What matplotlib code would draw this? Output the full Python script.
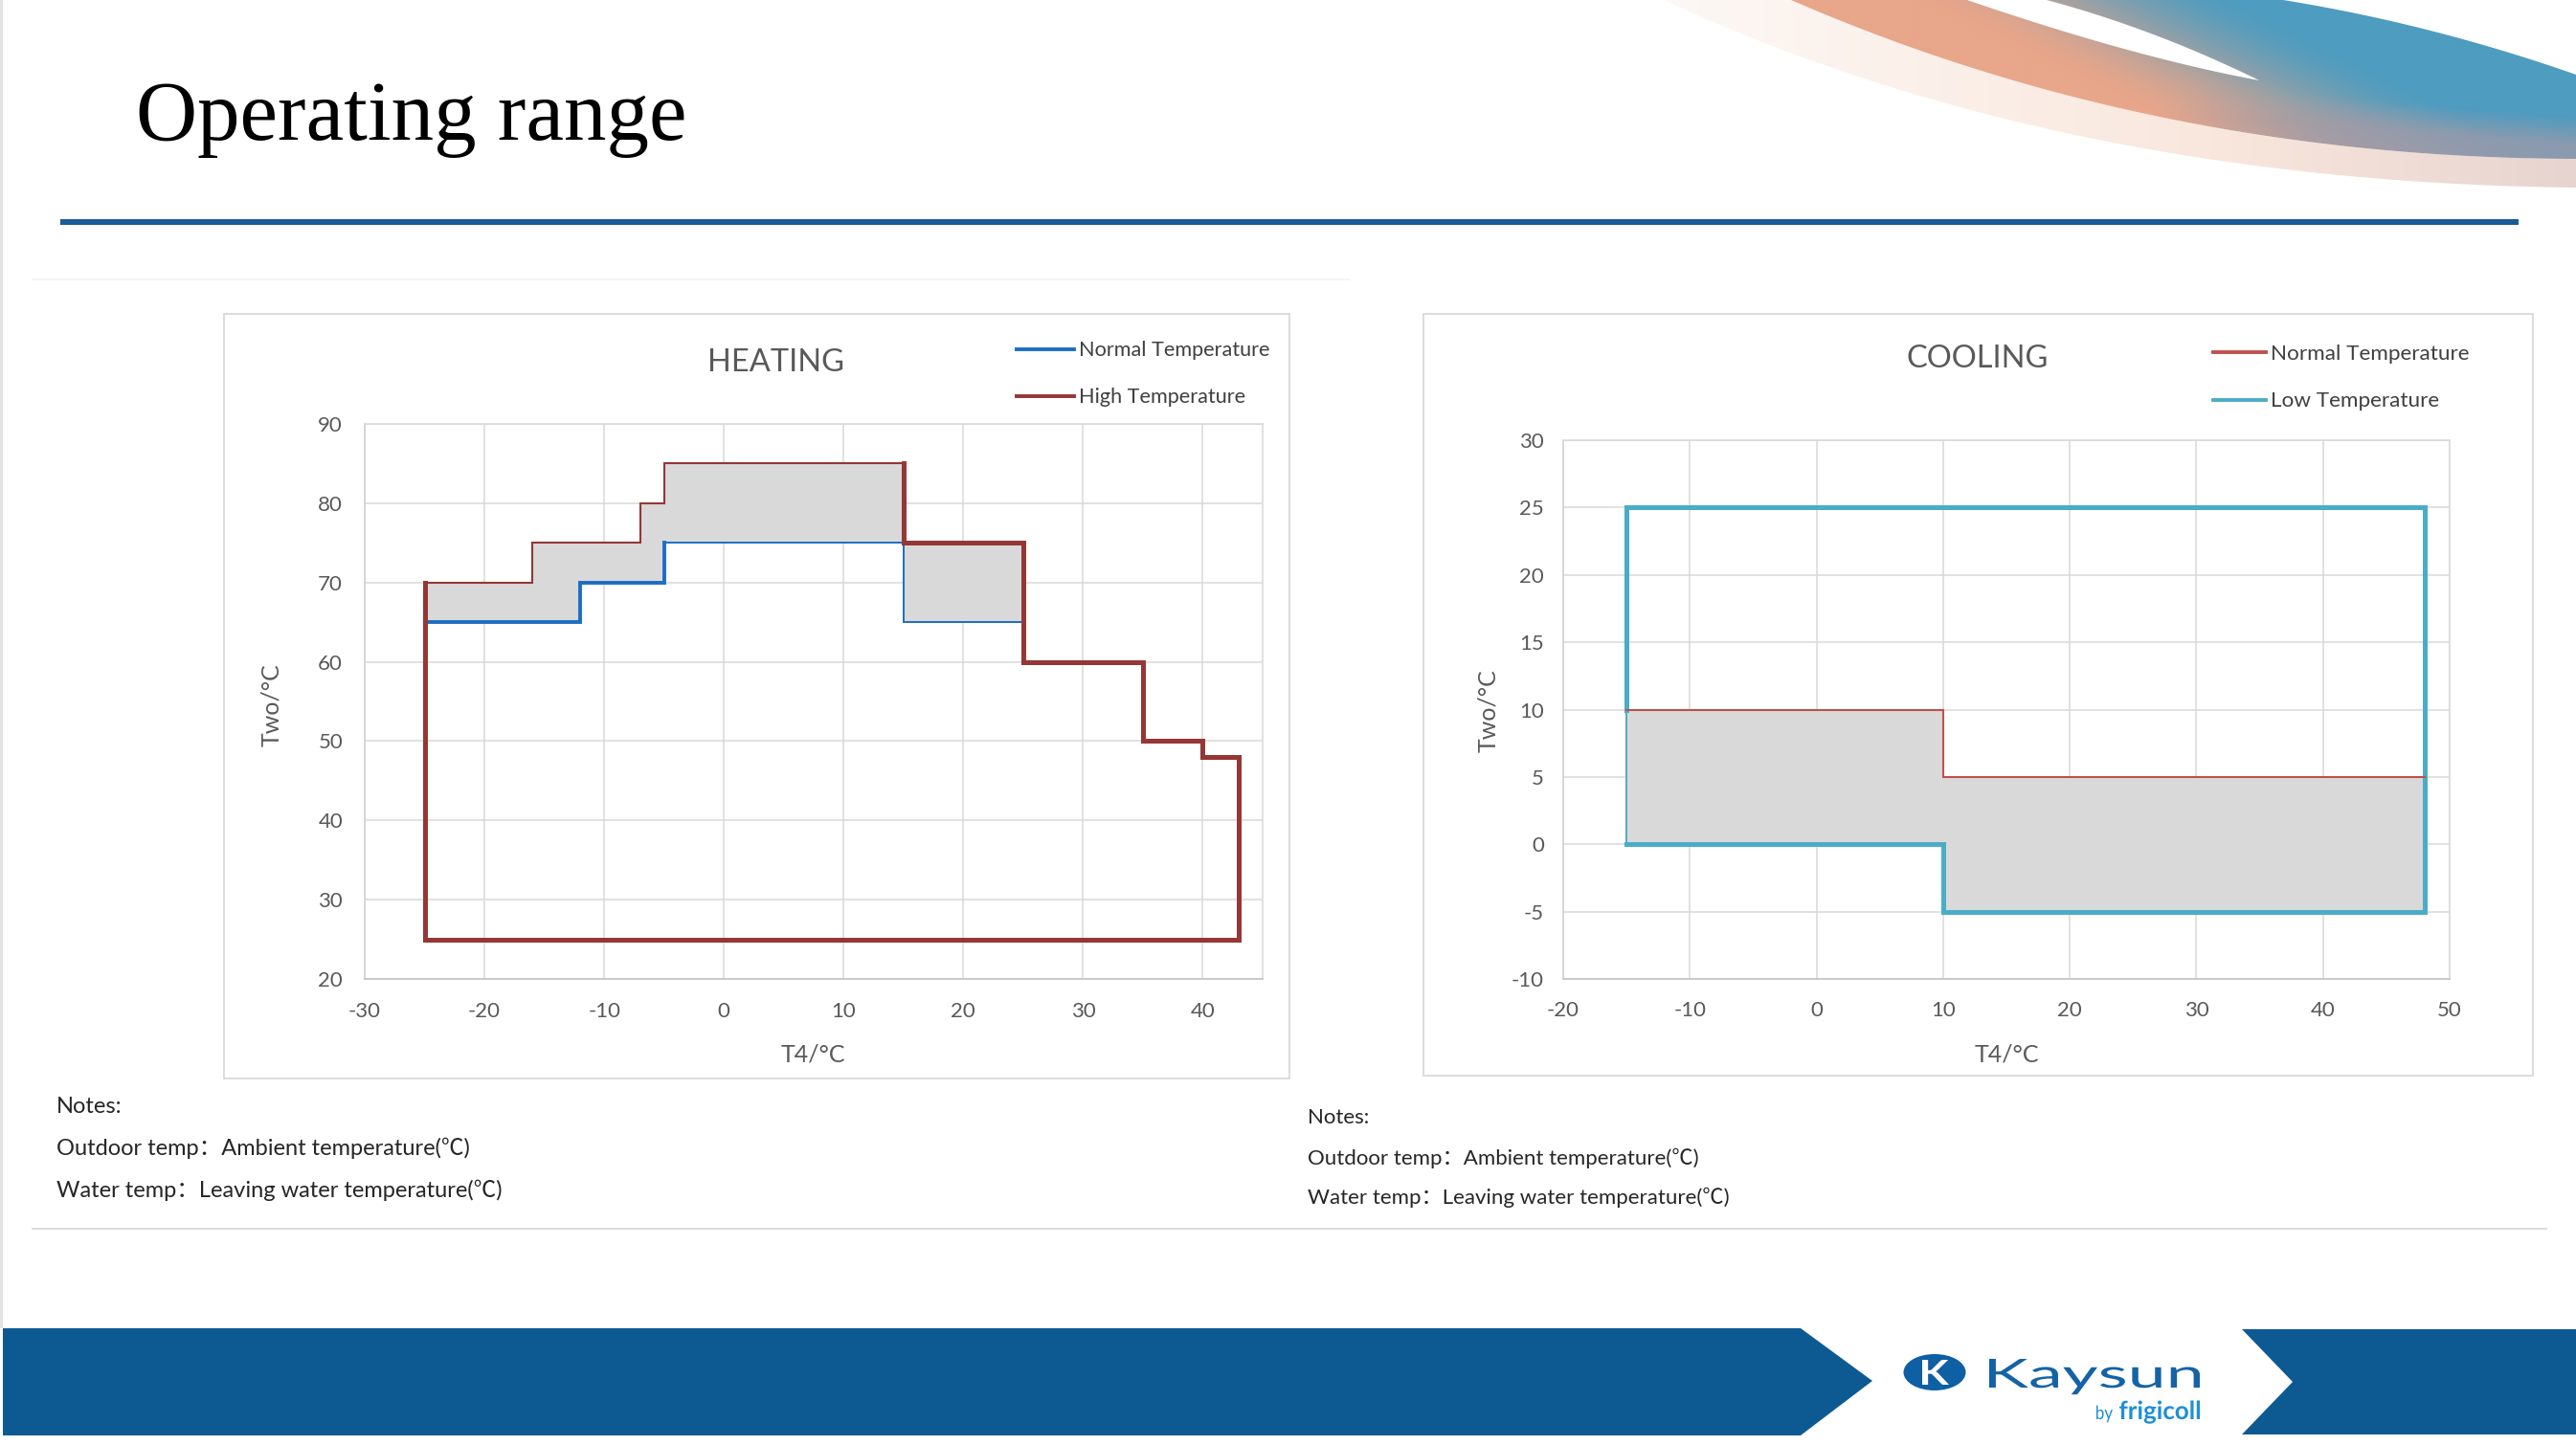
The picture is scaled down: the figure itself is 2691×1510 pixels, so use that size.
import numpy as np
import matplotlib
matplotlib.use('Agg')
import matplotlib.pyplot as plt
from matplotlib.patches import Polygon, Rectangle, Ellipse, PathPatch
from matplotlib.textpath import TextPath
from matplotlib.font_manager import FontProperties
from matplotlib.transforms import Affine2D

plt.rcParams['font.family'] = ['Lato', 'Noto Sans CJK SC', 'DejaVu Sans']
plt.rcParams['axes.unicode_minus'] = False

# ---- heating envelope (T4 / Two) ----
heat_high_x = [-25, -25, -16, -16, -7, -7, -5, -5, 15, 15, 25, 25, 35, 35, 40, 40, 43, 43, -25]
heat_high_y = [25, 70, 70, 75, 75, 80, 80, 85, 85, 75, 75, 60, 60, 50, 50, 48, 48, 25, 25]
heat_norm_x = [-25, -12, -12, -5, -5, 15, 15, 25]
heat_norm_y = [65, 65, 70, 70, 75, 75, 65, 65]
heat_band_x = [-25, -16, -12, -7, -5, 15, 25]
heat_band_lo = [65, 65, 70, 70, 75, 65, 65]
heat_band_hi = [70, 75, 75, 80, 85, 75, 75]

# ---- cooling envelope ----
cool_low_x = [-15, -15, 48, 48, 10, 10, -15, -15]
cool_low_y = [10, 25, 25, -5, -5, 0, 0, 10]
cool_norm_x = [-15, 10, 10, 48]
cool_norm_y = [10, 10, 5, 5]
cool_band_x = [-15, 10, 48]
cool_band_lo = [0, -5, -5]
cool_band_hi = [10, 5, 5]

heat_xticks = list(range(-30, 41, 10))
heat_yticks = list(range(20, 91, 10))
cool_xticks = list(range(-20, 51, 10))
cool_yticks = list(range(-10, 31, 5))

heat_labels = ['Normal Temperature', 'High Temperature']
cool_labels = ['Normal Temperature', 'Low Temperature']
notes = ['Notes:', 'Outdoor temp：Ambient temperature(℃)', 'Water temp：Leaving water temperature(℃)']

W, H = 2691, 1510
fig = plt.figure(figsize=(W / 100, H / 100), dpi=100)
bg = fig.add_axes([0, 0, 1, 1], zorder=0)
bg.set_xlim(0, W)
bg.set_ylim(H, 0)
bg.axis('off')


def fig_rect(x0, y0, x1, y1):
    return [x0 / W, 1 - y1 / H, (x1 - x0) / W, (y1 - y0) / H]


def bez(p0, p1, p2, n=80):
    t = np.linspace(0, 1, n)[:, None]
    return (1 - t) ** 2 * np.array(p0) + 2 * (1 - t) * t * np.array(p1) + t ** 2 * np.array(p2)


def gradient_fill(verts, colorfunc, ext, z=1):
    poly = Polygon(verts, closed=True, fc='none', ec='none')
    bg.add_patch(poly)
    x0, x1, y0, y1 = ext
    X, Y = np.meshgrid(np.linspace(x0, x1, 500), np.linspace(y0, y1, 150))
    im = bg.imshow(colorfunc(X, Y), extent=(x0, x1, y1, y0), origin='upper',
                   aspect='auto', interpolation='bilinear', zorder=z)
    im.set_clip_path(poly)


def pale_color(X, Y):
    c0 = np.array([253, 248, 245]) / 255
    c1 = np.array([249, 231, 221]) / 255
    c2 = np.array([231, 212, 208]) / 255
    t = np.clip((X - 1740) / 951, 0, 1)[..., None]
    return np.where(t < 0.6, c0 + (c1 - c0) * t / 0.6, c1 + (c2 - c1) * (t - 0.6) / 0.4)


def band_color(X, Y):
    salmon = np.array([232, 166, 138]) / 255
    blue = np.array([78, 156, 192]) / 255
    mauve = np.array([160, 154, 168]) / 255
    t = np.clip((X - 2 * Y - 2000) / 350, 0, 1)
    t = (t * t * (3 - 2 * t))[..., None]
    c = salmon * (1 - t) + blue * t
    ymid = 95 + (X - 2350) * 0.08
    m = (np.clip((Y - ymid) / 30, 0, 1) * np.clip((X - 2250) / 200, 0, 1))[..., None] * 0.75
    return c * (1 - m) + mauve * m


# decorative ribbon, top right
P1 = bez((1738, 0), (2150, 190), (2691, 196))
P2 = bez((1871, 0), (2250, 165), (2691, 166))
P3 = bez((2385, 0), (2540, 25), (2691, 78))
pale = np.vstack([[(1738, 0), (1871, 0)], P2, P1[::-1]])
gradient_fill(pale, pale_color, (1730, 2691, 0, 200))
band = np.vstack([[(1871, 0)], P3, P2[::-1]])
gradient_fill(band, band_color, (1860, 2691, 0, 200))
wedge = np.vstack([bez((2055, 0), (2230, 60), (2360, 84)), bez((2360, 84), (2250, 30), (2138, 0))])
bg.add_patch(Polygon(wedge, closed=True, fc='white', ec='none', zorder=1.5))
bg.set_xlim(0, W)
bg.set_ylim(H, 0)

# slide furniture
bg.add_patch(Rectangle((0, 0), 3, 1388, fc='#E3E3E3', ec='none'))
bg.text(142, 146, 'Operating range', family='Liberation Serif', fontsize=64, color='black', va='baseline')
bg.plot([63, 2631], [232, 232], color='#1A5C98', lw=4.3, solid_capstyle='butt')
bg.plot([34, 1410], [292, 292], color='#F2F2F2', lw=1.2)
bg.plot([34, 2660], [1284, 1284], color='#DCDCDC', lw=1.4)
bg.add_patch(Rectangle((234, 328), 1347 - 234, 1127 - 328, fc='white', ec='#D9D9D9', lw=1.3))
bg.add_patch(Rectangle((1487, 328), 2646 - 1487, 1124 - 328, fc='white', ec='#D9D9D9', lw=1.3))

footer = '#0D5A93'
bg.add_patch(Polygon([(3, 1388), (1881, 1388), (1956, 1443), (1881, 1500), (3, 1500)], fc=footer, ec='none'))
bg.add_patch(Polygon([(2342, 1389), (2691, 1389), (2691, 1499), (2342, 1499), (2395, 1444)], fc=footer, ec='none'))


def path_text(s, x0, x1, base, cap, color, weight='normal'):
    prop = FontProperties(family='Lato', weight=weight)
    tp = TextPath((0, 0), s, size=100, prop=prop)
    ext = tp.get_extents()
    capref = TextPath((0, 0), 'H', size=100, prop=prop).get_extents().height
    tr = Affine2D().translate(-ext.x0, 0).scale((x1 - x0) / ext.width, -cap / capref).translate(x0, base)
    bg.add_patch(PathPatch(tr.transform_path(tp), fc=color, ec='none', zorder=3))


bg.add_patch(Ellipse((2021, 1434), 65, 38, fc='#0E5FA3', ec='none', zorder=2))
path_text('K', 2008, 2036, 1447, 26, 'white', weight='bold')
path_text('Kaysun', 2078, 2298, 1450, 30, '#1463A6')
path_text('by', 2190, 2207, 1483, 14, '#1E8FD8')
path_text('frigicoll', 2214, 2298, 1483, 19, '#1E8FD8', weight='bold')

# notes
for txt, yb in zip(notes, [1163, 1207, 1251]):
    bg.text(59, yb, txt, fontsize=17, color='#262626', va='baseline')
for txt, yb in zip(notes, [1174, 1217, 1258]):
    bg.text(1366, yb, txt, fontsize=16, color='#262626', va='baseline')


def style(ax, xlim, ylim, xt, yt, ypad, xpad):
    ax.set_xlim(xlim)
    ax.set_ylim(ylim)
    ax.set_xticks(xt)
    ax.set_yticks(yt)
    ax.grid(True, color='#D9D9D9', lw=1.1)
    ax.set_axisbelow(True)
    ax.tick_params(length=0, labelsize=16, labelcolor='#595959')
    ax.tick_params(axis='y', pad=ypad)
    ax.tick_params(axis='x', pad=xpad)
    for s in ax.spines.values():
        s.set_color('#D9D9D9')
        s.set_linewidth(1.1)
    ax.spines['bottom'].set_color('#BFBFBF')
    ax.spines['left'].set_color('#D0D0D0')


def seg(ax, xs, ys, i0, i1, color, lw):
    ax.plot(xs[i0:i1 + 1], ys[i0:i1 + 1], color=color, lw=lw, zorder=3,
            solid_joinstyle='miter', solid_capstyle='projecting')


# heating chart
heat_blue, heat_red = '#1B6EC2', '#953735'
ax_h = fig.add_axes(fig_rect(381, 443, 1319, 1023), zorder=2)
style(ax_h, (-30, 45), (20, 90), heat_xticks, heat_yticks, 16.5, 17)
ax_h.fill_between(heat_band_x, heat_band_lo, heat_band_hi, step='post', color='#D9D9D9', lw=0, zorder=2)
seg(ax_h, heat_norm_x, heat_norm_y, 0, 4, heat_blue, 2.8)
seg(ax_h, heat_norm_x, heat_norm_y, 4, 7, heat_blue, 1.4)
seg(ax_h, heat_high_x, heat_high_y, 0, 1, heat_red, 3.6)
seg(ax_h, heat_high_x, heat_high_y, 1, 8, heat_red, 1.5)
seg(ax_h, heat_high_x, heat_high_y, 8, 18, heat_red, 3.6)

# cooling chart
cool_red, cool_blue = '#C0504D', '#4BACC6'
ax_c = fig.add_axes(fig_rect(1633, 460, 2559, 1023), zorder=2)
style(ax_c, (-20, 50), (-10, 30), cool_xticks, cool_yticks, 14.5, 16.5)
ax_c.fill_between(cool_band_x, cool_band_lo, cool_band_hi, step='post', color='#D9D9D9', lw=0, zorder=2)
seg(ax_c, cool_low_x, cool_low_y, 0, 6, cool_blue, 3.6)
seg(ax_c, cool_low_x, cool_low_y, 6, 7, cool_blue, 1.4)
seg(ax_c, cool_norm_x, cool_norm_y, 0, 3, cool_red, 1.5)

# titles, axis labels, legends
grey = '#595959'
bg.text(811, 388, 'HEATING', fontsize=23.5, color=grey, ha='center', va='baseline')
bg.text(2066, 384, 'COOLING', fontsize=23.5, color=grey, ha='center', va='baseline')
bg.text(849, 1110, 'T4/°C', fontsize=18, color=grey, ha='center', va='baseline')
bg.text(2096, 1109, 'T4/°C', fontsize=18, color=grey, ha='center', va='baseline')
bg.text(291, 737, 'Two/°C', fontsize=18, color=grey, ha='center', va='baseline',
        rotation=90, rotation_mode='anchor')
bg.text(1562, 743, 'Two/°C', fontsize=18, color=grey, ha='center', va='baseline',
        rotation=90, rotation_mode='anchor')

for lab, col, yl, yb in zip(heat_labels, [heat_blue, heat_red], [365, 414], [372, 421]):
    bg.plot([1062, 1122], [yl, yl], color=col, lw=2.8, zorder=3)
    bg.text(1127, yb, lab, fontsize=15.6, color='#404040', va='baseline', zorder=3)
for lab, col, yl, yb in zip(cool_labels, [cool_red, cool_blue], [368, 418], [376, 425]):
    bg.plot([2312, 2367], [yl, yl], color=col, lw=2.8, zorder=3)
    bg.text(2372, yb, lab, fontsize=16.2, color='#404040', va='baseline', zorder=3)

fig.savefig('out.png', dpi=100, facecolor='white')
